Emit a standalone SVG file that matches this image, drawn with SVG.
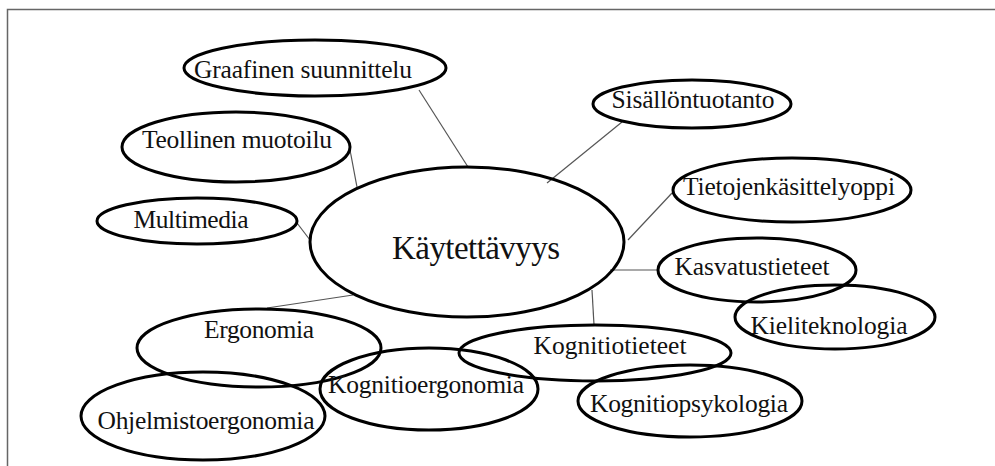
<svg xmlns="http://www.w3.org/2000/svg" width="995" height="466" viewBox="0 0 995 466">
<style>
.n{fill:none;stroke:#000;stroke-width:3}
.t{font-family:"Liberation Serif","Times New Roman",serif;font-size:25.5px;fill:#111;text-anchor:middle}
.c{stroke:#555;stroke-width:1.2;fill:none}
</style>
<rect width="995" height="466" fill="#fff"/>
<path d="M7.5 466V9.5H995" fill="none" stroke="#666" stroke-width="1.5"/>
<g id="connectors">
<line class="c" x1="419" y1="90" x2="468" y2="167"/>
<line class="c" x1="350" y1="150" x2="357" y2="187"/>
<line class="c" x1="297" y1="223" x2="310" y2="240"/>
<line class="c" x1="622" y1="122" x2="547" y2="183"/>
<line class="c" x1="672" y1="193" x2="628" y2="240"/>
<line class="c" x1="610" y1="270" x2="658" y2="270"/>
<line class="c" x1="592" y1="290" x2="594" y2="325"/>
<line class="c" x1="353" y1="295" x2="267" y2="308"/>
</g>
<g id="kaytettavyys"><ellipse class="n" cx="467" cy="242" rx="157" ry="75"/><text class="t" x="476" y="259" style="font-size:33px" textLength="168">Käytettävyys</text></g>
<g id="graafinen"><ellipse class="n" cx="315" cy="68" rx="131" ry="28"/><text class="t" x="303" y="78" textLength="218">Graafinen suunnittelu</text></g>
<g id="teollinen"><ellipse class="n" cx="236" cy="147" rx="114" ry="35"/><text class="t" x="237" y="148" textLength="190">Teollinen muotoilu</text></g>
<g id="multimedia"><ellipse class="n" cx="197" cy="221" rx="100" ry="23"/><text class="t" x="191" y="228" textLength="115">Multimedia</text></g>
<g id="sisallontuotanto"><ellipse class="n" cx="692" cy="104" rx="99" ry="24"/><text class="t" x="693" y="108" textLength="163">Sisällöntuotanto</text></g>
<g id="tietojenkasittelyoppi"><ellipse class="n" cx="792" cy="190" rx="119" ry="32"/><text class="t" x="789" y="195" textLength="212">Tietojenkäsittelyoppi</text></g>
<g id="kasvatustieteet"><ellipse class="n" cx="757" cy="270" rx="99" ry="32"/><text class="t" x="752" y="275" textLength="155">Kasvatustieteet</text></g>
<g id="kieliteknologia"><ellipse class="n" cx="835" cy="317" rx="100" ry="32"/><text class="t" x="829" y="334" textLength="157">Kieliteknologia</text></g>
<g id="kognitiotieteet"><ellipse class="n" cx="595" cy="353" rx="136" ry="28"/><text class="t" x="610" y="354" textLength="153">Kognitiotieteet</text></g>
<g id="kognitiopsykologia"><ellipse class="n" cx="690" cy="401" rx="112" ry="36"/><text class="t" x="689" y="412" textLength="198">Kognitiopsykologia</text></g>
<g id="ergonomia"><ellipse class="n" cx="259" cy="348" rx="122" ry="39"/><text class="t" x="259" y="338" textLength="110">Ergonomia</text></g>
<g id="ohjelmistoergonomia"><ellipse class="n" cx="203" cy="416" rx="122" ry="44"/><text class="t" x="206" y="429" textLength="217">Ohjelmistoergonomia</text></g>
<g id="kognitioergonomia"><ellipse class="n" cx="429" cy="389" rx="109" ry="41"/><text class="t" x="426" y="393" textLength="196">Kognitioergonomia</text></g>
</svg>
